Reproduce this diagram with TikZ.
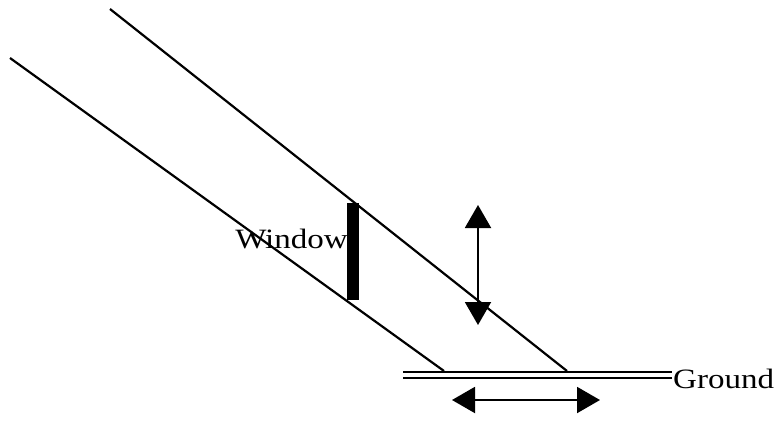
\documentclass[tikz,border=0pt]{standalone}
\usepackage{fontspec}
\setmainfont{Liberation Serif}[FakeStretch=1.18]
\usepackage{tikz}
\usetikzlibrary{arrows.meta}
\tikzstyle{ray} = [line width=2.2pt]
\tikzstyle{label} = [inner sep=0pt, font=\fontsize{28}{30}\selectfont]
\tikzstyle{motion} = [line width=2pt, {Triangle[length=23pt,width=26pt]}-{Triangle[length=23pt,width=26pt]}]

\begin{document}
\begin{tikzpicture}[x=1pt, y=-1pt]
	\useasboundingbox (0,0) rectangle (777,421);
	% the two rays
	\coordinate (uA) at (110,9);
	\coordinate (uB) at (567,371);
	\coordinate (lA) at (10,58);
	\coordinate (lB) at (444,371);
	\draw[ray] (uA) -- (uB);
	\draw[ray] (lA) -- (lB);
	% window
	\coordinate (wTop) at (353,203);
	\coordinate (wBot) at (353,300);
	\draw[line width=12pt] (wTop) -- (wBot);
	\node[label, anchor=base east] (window) at (348,248) {Window};
	% ground
	\coordinate (gA) at (403,372);
	\coordinate (gB) at (672,372);
	\coordinate (gC) at (403,378);
	\coordinate (gD) at (672,378);
	\draw[ray] (gA) -- (gB);
	\draw[ray] (gC) -- (gD);
	\node[label, anchor=base west] (ground) at (673,388) {Ground};
	% arrows
	\coordinate (vA) at (478,205);
	\coordinate (vB) at (478,325);
	\coordinate (hA) at (452,400);
	\coordinate (hB) at (600,400);
	\draw[motion] (vA) -- (vB);
	\draw[motion] (hA) -- (hB);
\end{tikzpicture}
\end{document}
